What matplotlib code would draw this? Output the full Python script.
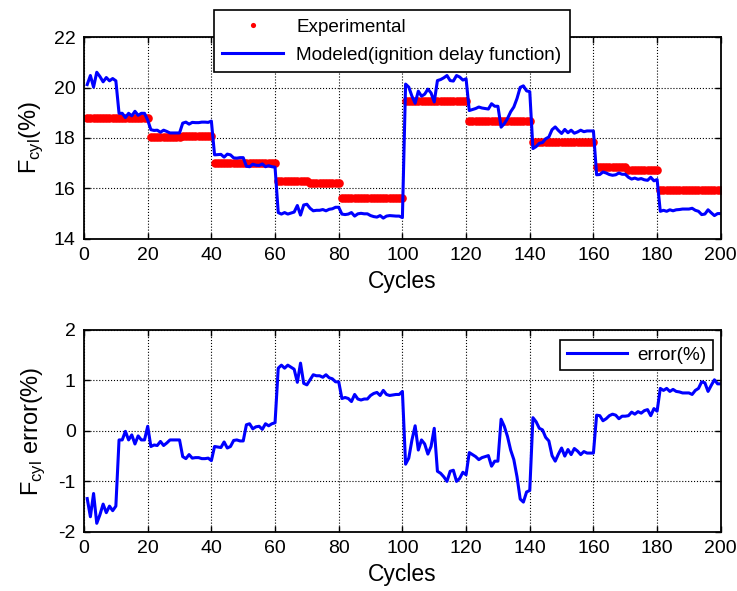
import numpy as np
import matplotlib
matplotlib.use("Agg")
import matplotlib.pyplot as plt

plt.rcParams['font.family'] = ['Liberation Sans', 'DejaVu Sans']
plt.rcParams['axes.unicode_minus'] = False

# cycle numbers
cycles = np.arange(1, 201)

# experimental F_cyl (%) levels, one per block of 10 cycles
exp_levels = [18.78, 18.80, 18.02, 18.08, 17.02, 17.00, 16.28, 16.22, 15.62, 15.62,
              19.48, 19.48, 18.66, 18.66, 17.84, 17.84, 16.85, 16.74, 15.93, 15.93]

# error (%) = experimental - modeled, read cycle by cycle from the lower plot
error = [
    -1.34, -1.70, -1.24, -1.83, -1.66, -1.45, -1.62, -1.49, -1.58, -1.49,
    -0.18, -0.18, -0.01, -0.18, -0.08, -0.26, -0.10, -0.18, -0.18, 0.09,
    -0.31, -0.28, -0.29, -0.21, -0.29, -0.24, -0.18, -0.18, -0.18, -0.18,
    -0.51, -0.55, -0.47, -0.54, -0.53, -0.53, -0.55, -0.55, -0.54, -0.59,
    -0.31, -0.32, -0.33, -0.22, -0.34, -0.31, -0.19, -0.18, -0.20, -0.20,
    0.12, 0.14, 0.04, 0.08, 0.09, 0.03, 0.14, 0.10, 0.14, 0.16,
    1.24, 1.30, 1.24, 1.30, 1.26, 1.22, 0.96, 1.34, 0.94, 0.91,
    1.01, 1.11, 1.09, 1.09, 1.06, 1.11, 1.05, 1.03, 0.97, 0.97,
    0.64, 0.66, 0.64, 0.58, 0.72, 0.63, 0.61, 0.63, 0.63, 0.70,
    0.74, 0.76, 0.70, 0.80, 0.72, 0.70, 0.71, 0.72, 0.72, 0.78,
    -0.66, -0.54, -0.18, 0.10, -0.38, -0.18, -0.26, -0.46, -0.31, 0.05,
    -0.80, -0.84, -0.91, -1.00, -0.80, -0.78, -1.00, -0.94, -0.82, -0.87,
    -0.43, -0.47, -0.51, -0.57, -0.53, -0.51, -0.49, -0.70, -0.60, -0.60,
    0.23, 0.09, -0.11, -0.38, -0.57, -0.91, -1.35, -1.41, -1.21, -1.18,
    0.26, 0.18, 0.05, 0.02, -0.13, -0.20, -0.49, -0.60, -0.46, -0.34,
    -0.50, -0.37, -0.47, -0.35, -0.40, -0.47, -0.41, -0.44, -0.44, -0.44,
    0.31, 0.30, 0.20, 0.24, 0.30, 0.33, 0.31, 0.24, 0.29, 0.29,
    0.30, 0.37, 0.33, 0.38, 0.35, 0.40, 0.42, 0.30, 0.44, 0.39,
    0.84, 0.80, 0.84, 0.78, 0.82, 0.78, 0.77, 0.75, 0.75, 0.75,
    0.72, 0.80, 0.84, 0.97, 0.95, 0.78, 0.90, 1.01, 0.93, 0.93,
]

experimental = np.repeat(exp_levels, 10)
error = np.array(error)
modeled = experimental - error

fig = plt.figure(figsize=(7.37, 5.91), dpi=100)
ax1 = fig.add_axes([0.114, 0.596, 0.864, 0.341])
ax2 = fig.add_axes([0.114, 0.100, 0.864, 0.342])

def style(ax):
    ax.tick_params(direction='in', top=True, right=True, labelsize=14,
                   length=4, width=1, colors='black', pad=6)
    ax.grid(True, color='black', linestyle=':', linewidth=0.8)
    for s in ax.spines.values():
        s.set_linewidth(1.3)
    ax.set_xlim(0, 200)
    ax.set_xticks(np.arange(0, 201, 20))
    ax.set_xlabel('Cycles', fontsize=16.5, labelpad=4)

ax1.plot(cycles, experimental, 'o', color='red', markersize=6.2,
         markeredgewidth=0, label='Experimental')
ax1.plot(cycles, modeled, '-', color='blue', linewidth=2.2,
         label='Modeled(ignition delay function)')
style(ax1)
ax1.set_ylim(14, 22)
ax1.set_yticks(np.arange(14, 23, 2))
ax1.set_ylabel(r'F$_{\mathregular{cyl}}$(%)', fontsize=17, labelpad=6)
leg1 = ax1.legend(loc='upper left', bbox_to_anchor=(0.204, 1.134),
                  borderaxespad=0, fontsize=13.6, fancybox=False,
                  edgecolor='black', framealpha=1, markerscale=0.6,
                  handlelength=3.2, handletextpad=0.7, borderpad=0.45,
                  labelspacing=0.55)
leg1.get_frame().set_linewidth(1.2)
leg1.set_zorder(5)

ax2.plot(cycles, error, '-', color='blue', linewidth=2.2, label='error(%)')
style(ax2)
ax2.set_ylim(-2, 2)
ax2.set_yticks(np.arange(-2, 3, 1))
ax2.set_ylabel(r'F$_{\mathregular{cyl}}$ error(%)', fontsize=17, labelpad=8)
leg2 = ax2.legend(loc='upper right', bbox_to_anchor=(0.987, 0.950),
                  borderaxespad=0, fontsize=13.6, fancybox=False,
                  edgecolor='black', framealpha=1, handlelength=3.2,
                  handletextpad=0.5, borderpad=0.35)
leg2.get_frame().set_linewidth(1.2)

fig.savefig('out.png', dpi=100)
